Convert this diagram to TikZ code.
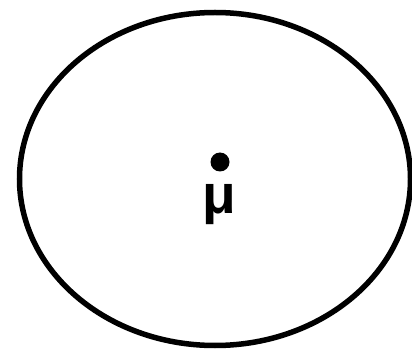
\documentclass[tikz,border=0pt]{standalone}
\usepackage{fontspec}
\setsansfont{Liberation Sans}
\usetikzlibrary{shapes.geometric,positioning}

\begin{document}
\begin{tikzpicture}[x=1pt, y=1pt]
    % --- fixed frame (same size as the reference) ---
    \useasboundingbox (0,0) rectangle (412,351);

    % --- the ellipse ---
    \node[draw, ellipse, line width=5.5pt, minimum width=391pt, minimum height=333pt, inner sep=0pt]
    (region) at (215, 172) {};

    % --- centre point and its label ---
    \node[circle, fill=black, inner sep=0pt, minimum size=19pt] (mu) at (220, 189) {};
    \node[font=\sffamily\bfseries\fontsize{55}{55}\selectfont, anchor=base, inner sep=0pt]
    (mulabel) at (219, 137) {μ};
\end{tikzpicture}
\end{document}
